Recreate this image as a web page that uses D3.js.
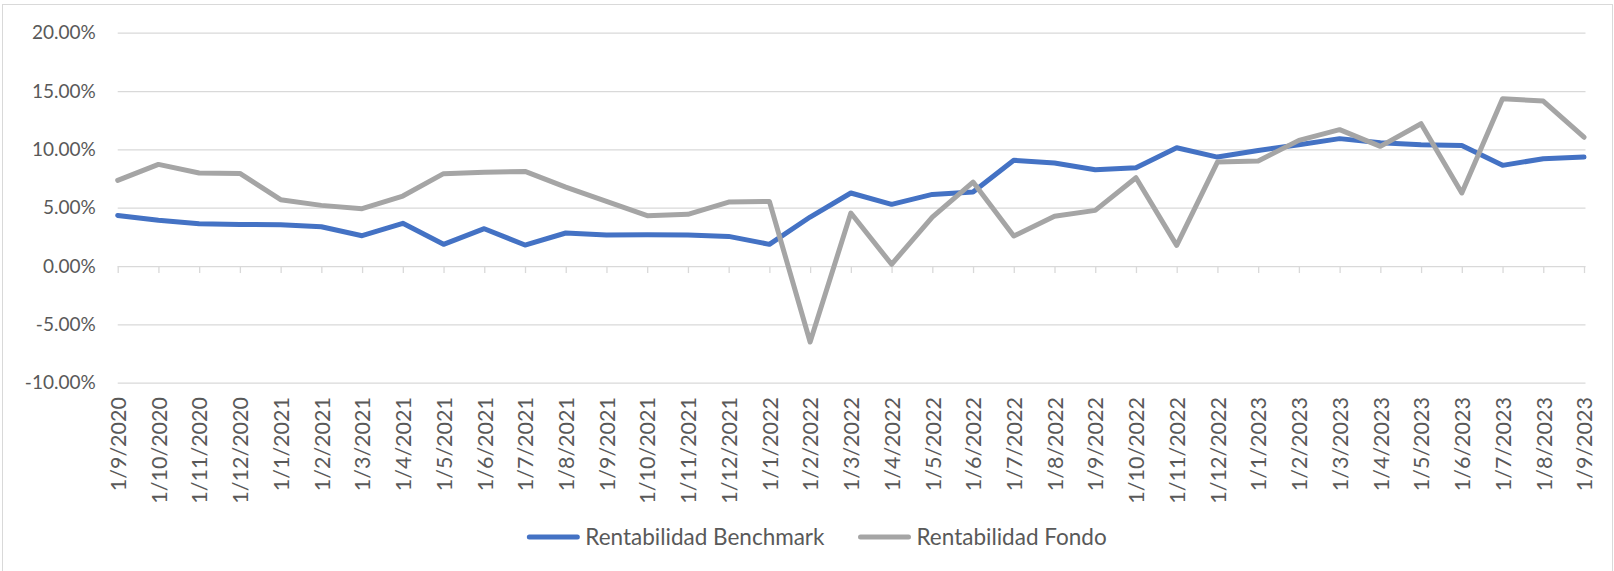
<!DOCTYPE html>
<html>
<head>
<meta charset="utf-8">
<script src="https://cdn.jsdelivr.net/npm/d3@7"></script>
<style>
  body { margin: 0; background: #fff; }
  svg text { font-family: Lato, "Liberation Sans", sans-serif; fill: #595959; }
</style>
</head>
<body>
<svg id="chart" width="1614" height="571"></svg>
<script>
// Categories (monthly dates, d/m/yyyy)
var dates = ["1/9/2020", "1/10/2020", "1/11/2020", "1/12/2020", "1/1/2021", "1/2/2021", "1/3/2021",
  "1/4/2021", "1/5/2021", "1/6/2021", "1/7/2021", "1/8/2021", "1/9/2021", "1/10/2021", "1/11/2021",
  "1/12/2021", "1/1/2022", "1/2/2022", "1/3/2022", "1/4/2022", "1/5/2022", "1/6/2022", "1/7/2022",
  "1/8/2022", "1/9/2022", "1/10/2022", "1/11/2022", "1/12/2022", "1/1/2023", "1/2/2023", "1/3/2023",
  "1/4/2023", "1/5/2023", "1/6/2023", "1/7/2023", "1/8/2023", "1/9/2023"];

// Series values in percent
var benchmark = [4.34, 3.92, 3.63, 3.57, 3.54, 3.37, 2.60, 3.66, 1.86, 3.20, 1.80, 2.83, 2.66, 2.69, 2.66,
  2.54, 1.86, 4.20, 6.26, 5.29, 6.14, 6.34, 9.06, 8.83, 8.26, 8.43, 10.14, 9.34, 9.91, 10.40, 10.92,
  10.57, 10.40, 10.34, 8.63, 9.20, 9.34];
var fondo = [7.34, 8.71, 7.97, 7.94, 5.69, 5.20, 4.92, 6.00, 7.92, 8.03, 8.11, 6.77, 5.54, 4.32, 4.43,
  5.48, 5.54, -6.51, 4.54, 0.15, 4.20, 7.20, 2.57, 4.26, 4.77, 7.57, 1.77, 8.91, 9.00, 10.77, 11.69,
  10.26, 12.20, 6.26, 14.34, 14.14, 11.04];

// Y tick values in percent
var yTicks = [-10, -5, 0, 5, 10, 15, 20];

var seriesNames = ["Rentabilidad Benchmark", "Rentabilidad Fondo"];
var seriesColors = ["#4472C4", "#A5A5A5"];

var svg = d3.select("#chart");

// Outer chart border
svg.append("rect")
  .attr("x", 2.5).attr("y", 4.5)
  .attr("width", 1610).attr("height", 575)
  .attr("fill", "none")
  .attr("stroke", "#D9D9D9");

var plotLeft = 117.7, plotRight = 1584, plotTop = 32.7, plotBottom = 382.7;

var x = d3.scalePoint().domain(dates).range([plotLeft, plotRight]);
var y = d3.scaleLinear().domain([-10, 20]).range([plotBottom, plotTop]);

// Gridlines + y labels
var yAxis = d3.axisLeft(y)
  .tickValues(yTicks)
  .tickSize(-(plotRight - plotLeft + 1.5))
  .tickPadding(22)
  .tickFormat(function(d) { return d.toFixed(2) + "%"; });

var gy = svg.append("g")
  .attr("transform", "translate(" + plotLeft + ",0)")
  .call(yAxis);
gy.select(".domain").remove();
gy.selectAll("line").attr("stroke", "#D9D9D9").attr("stroke-width", 1.3);
gy.selectAll("text").attr("font-size", 19).style("font-family", null);

// Category tick marks at the zero line, labels rotated below the plot
var xAxis = d3.axisBottom(x).tickSizeInner(7).tickSizeOuter(0);
var gx = svg.append("g")
  .attr("transform", "translate(0," + y(0) + ")")
  .call(xAxis);
gx.select(".domain").remove();
gx.selectAll("line").attr("stroke", "#D9D9D9").attr("stroke-width", 1.3);
gx.selectAll("text")
  .attr("font-size", 21.5)
  .style("font-family", null)
  .attr("text-anchor", "end")
  .attr("transform", "rotate(-90)")
  .attr("x", -(397 - y(0)))
  .attr("y", 0)
  .attr("dy", "0.36em");

// Lines
var line = d3.line()
  .x(function(d, i) { return x(dates[i]); })
  .y(function(d) { return y(d); });

[benchmark, fondo].forEach(function(values, k) {
  svg.append("path")
    .datum(values)
    .attr("d", line)
    .attr("fill", "none")
    .attr("stroke", seriesColors[k])
    .attr("stroke-width", 5)
    .attr("stroke-linejoin", "round")
    .attr("stroke-linecap", "round");
});

// Legend
var legend = svg.append("g");
var legendY = 537;
var cursor = 0;
seriesNames.forEach(function(name, k) {
  var item = legend.append("g").attr("transform", "translate(" + cursor + ",0)");
  item.append("line")
    .attr("x1", 0).attr("x2", 48)
    .attr("y1", legendY).attr("y2", legendY)
    .attr("stroke", seriesColors[k])
    .attr("stroke-width", 5)
    .attr("stroke-linecap", "round");
  var t = item.append("text")
    .attr("x", 56).attr("y", legendY)
    .attr("dy", "0.36em")
    .attr("font-size", 22.5)
    .text(name);
  cursor += 56 + t.node().getComputedTextLength() + 36;
});
var legendWidth = cursor - 36;
legend.attr("transform", "translate(" + (818 - legendWidth / 2) + ",0)");
</script>
</body>
</html>
